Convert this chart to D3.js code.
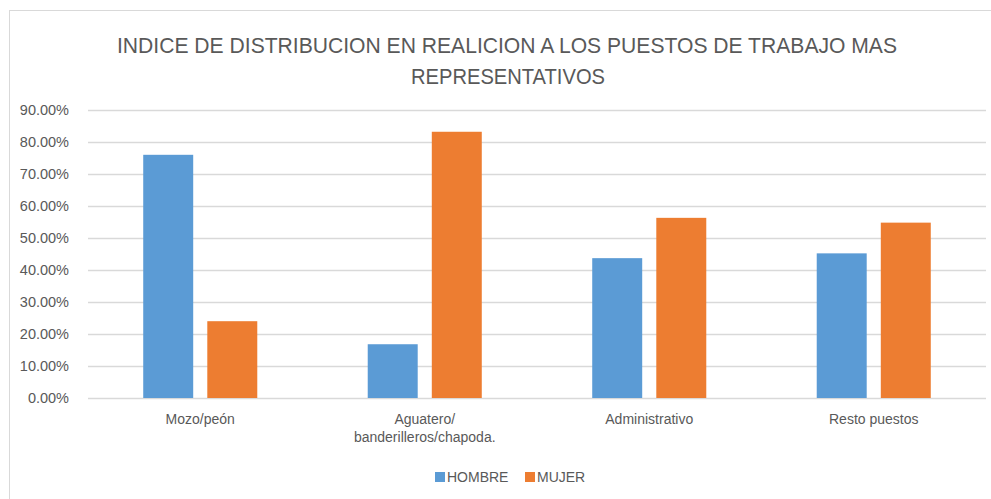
<!DOCTYPE html>
<html>
<head>
<meta charset="utf-8">
<script src="https://cdn.jsdelivr.net/npm/d3@7"></script>
<style>
  body { margin: 0; background: #fff; }
  svg text { font-family: "Liberation Sans", Arial, sans-serif; fill: #595959; }
</style>
</head>
<body>
<div id="chart"></div>
<script>
const categories = ['Mozo/peón', 'Aguatero/\nbanderilleros/chapoda.', 'Administrativo', 'Resto puestos']
const series = ['HOMBRE', 'MUJER']
const hombre = [76.0, 16.8, 43.7, 45.2]
const mujer = [24.0, 83.2, 56.3, 54.8]
const yTicks = [0, 10, 20, 30, 40, 50, 60, 70, 80, 90]
const titleLines = ['INDICE DE DISTRIBUCION EN REALICION A LOS PUESTOS DE TRABAJO MAS', 'REPRESENTATIVOS']

const w = 991, h = 499
const colors = ['#5b9bd5', '#ed7d31']
const plot = { left: 88, right: 986, top: 110, bottom: 398 }

const svg = d3.select('#chart').append('svg')
  .attr('width', w)
  .attr('height', h)

// chart frame
svg.append('rect')
  .attr('x', 9.5).attr('y', 10.5)
  .attr('width', 1000).attr('height', 600)
  .attr('fill', 'none')
  .attr('stroke', '#d9d9d9')

// title (narrow font look: squeeze to the measured widths)
svg.append('text')
  .attr('x', 507).attr('y', 53)
  .attr('text-anchor', 'middle')
  .attr('font-size', '22px')
  .attr('textLength', 780)
  .attr('lengthAdjust', 'spacingAndGlyphs')
  .text(titleLines[0])
svg.append('text')
  .attr('x', 508).attr('y', 84)
  .attr('text-anchor', 'middle')
  .attr('font-size', '22px')
  .attr('textLength', 194)
  .attr('lengthAdjust', 'spacingAndGlyphs')
  .text(titleLines[1])

const y = d3.scaleLinear()
  .domain([0, 90])
  .range([plot.bottom, plot.top])

const x0 = d3.scaleBand()
  .domain(categories)
  .range([plot.left, plot.right])
  .paddingInner(0.492)
  .paddingOuter(0.246)

const x1 = d3.scaleBand()
  .domain(series)
  .range([0, x0.bandwidth()])
  .paddingInner(0.22)

// gridlines
svg.append('g')
  .selectAll('line')
  .data(yTicks)
  .enter()
  .append('line')
  .attr('x1', plot.left).attr('x2', plot.right)
  .attr('y1', d => Math.round(y(d)) + 0.5)
  .attr('y2', d => Math.round(y(d)) + 0.5)
  .attr('stroke', '#d9d9d9')
  .attr('stroke-width', 1.5)

// y axis labels
const yAxis = svg.append('g')
  .attr('transform', `translate(${plot.left - 16},0)`)
  .call(d3.axisLeft(y).tickValues(yTicks).tickFormat(d => d.toFixed(2) + '%').tickSize(0))
yAxis.select('.domain').remove()
yAxis.selectAll('text')
  .attr('font-size', '14.5px')
  .attr('font-family', '"Liberation Sans", Arial, sans-serif')
  .style('fill', '#595959')

// bars
const rows = categories.map((c, i) => ({ cat: c, values: [hombre[i], mujer[i]] }))
const g = svg.append('g')
  .selectAll('g')
  .data(rows)
  .enter()
  .append('g')
  .attr('transform', d => `translate(${x0(d.cat)},0)`)

g.selectAll('rect')
  .data(d => d.values.map((v, i) => ({ key: series[i], value: v, color: colors[i] })))
  .enter()
  .append('rect')
  .attr('x', d => x1(d.key))
  .attr('width', x1.bandwidth())
  .attr('y', d => y(d.value))
  .attr('height', d => y(0) - y(d.value))
  .attr('fill', d => d.color)

// category labels
svg.append('g')
  .selectAll('text')
  .data(categories)
  .enter()
  .append('text')
  .attr('text-anchor', 'middle')
  .attr('font-size', '14px')
  .attr('x', d => x0(d) + x0.bandwidth() / 2)
  .attr('y', 424)
  .each(function (d) {
    d.split('\n').forEach((line, i) => {
      d3.select(this).append('tspan')
        .attr('x', x0(d) + x0.bandwidth() / 2)
        .attr('dy', i === 0 ? 0 : 18)
        .text(line)
    })
  })

// legend
const legend = svg.append('g')
  .selectAll('g')
  .data(series)
  .enter()
  .append('g')
  .attr('transform', (d, i) => `translate(${i === 0 ? 435 : 525},472)`)
legend.append('rect')
  .attr('width', 10).attr('height', 10)
  .attr('fill', (d, i) => colors[i])
legend.append('text')
  .attr('x', 12).attr('y', 10)
  .attr('font-size', '14px')
  .text(d => d)
</script>
</body>
</html>
